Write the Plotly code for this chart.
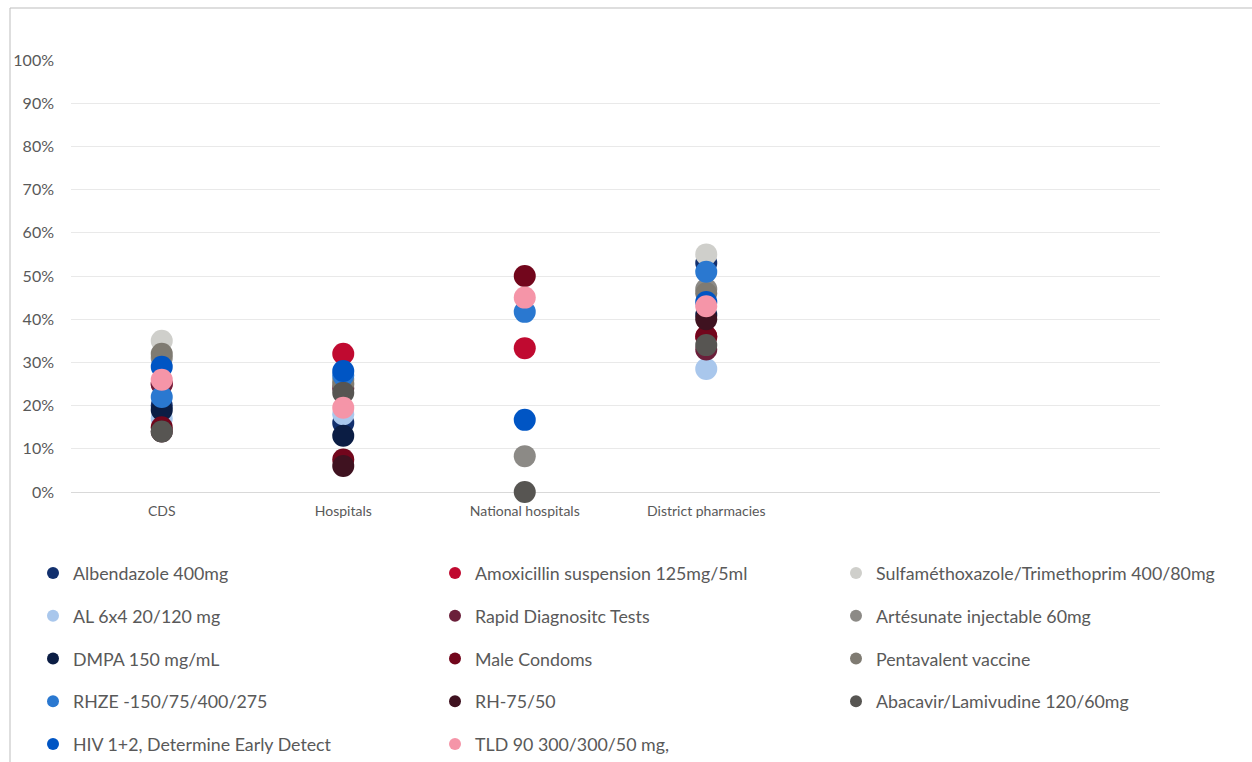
import plotly.graph_objects as go

# ---------------- data ----------------
categories = ["CDS", "Hospitals", "National hospitals", "District pharmacies"]
extra_slots = [" ", "  "]

series_names = [
    "Albendazole 400mg",
    "Amoxicillin suspension 125mg/5ml",
    "Sulfaméthoxazole/Trimethoprim 400/80mg",
    "AL 6x4 20/120 mg",
    "Rapid Diagnositc Tests",
    "Artésunate injectable 60mg",
    "DMPA 150 mg/mL",
    "Male Condoms",
    "Pentavalent vaccine",
    "RHZE -150/75/400/275",
    "RH-75/50",
    "Abacavir/Lamivudine 120/60mg",
    "HIV 1+2, Determine Early Detect",
    "TLD 90 300/300/50 mg,",
]

albendazole = [0.20, 0.16, None, 0.53]
amoxicillin = [0.25, 0.32, 0.333, 0.36]
sulfa = [0.35, 0.25, None, 0.55]
al_6x4 = [0.17, 0.18, None, 0.285]
rdt = [0.25, 0.24, None, 0.33]
artesunate = [0.31, 0.26, 0.083, 0.47]
dmpa = [0.19, 0.13, None, 0.41]
male_condoms = [0.15, 0.075, 0.50, 0.36]
pentavalent = [0.32, 0.25, None, 0.46]
rhze = [0.22, 0.27, 0.417, 0.51]
rh = [0.14, 0.06, None, 0.40]
abacavir = [0.14, 0.23, 0.0, 0.34]
hiv = [0.29, 0.28, 0.167, 0.44]
tld = [0.26, 0.195, 0.45, 0.43]

series_values = [albendazole, amoxicillin, sulfa, al_6x4, rdt, artesunate, dmpa,
                 male_condoms, pentavalent, rhze, rh, abacavir, hiv, tld]

colors = ["#12306e", "#c00a30", "#cfcfcb", "#a9c7ec", "#6b1f3a", "#8c8a86", "#0b1d44",
          "#72061c", "#7f7b72", "#2a78d0", "#3f1220", "#575552", "#0055c4", "#f595a8"]

legend_columns = ["legend", "legend2", "legend3"] * 5

y_tickvals = [0, 0.1, 0.2, 0.3, 0.4, 0.5, 0.6, 0.7, 0.8, 0.9, 1.0]
y_ticktext = ["0%", "10%", "20%", "30%", "40%", "50%", "60%", "70%", "80%", "90%", "100%"]

# ---------------- layout geometry (pixels) ----------------
W, H = 1252, 762
PL, PR, PT, PB = 71, 1160, 60, 492
pw, ph = PR - PL, PB - PT


def px_x(px):
    return (px - PL) / pw


def px_y(py):
    return (PB - py) / ph


TEXT = "#595959"
FONT = "Lato"

fig = go.Figure()
for i, (name, vals, col) in enumerate(zip(series_names, series_values, colors)):
    fig.add_trace(go.Scatter(
        x=categories, y=vals, name=name, mode="markers",
        marker=dict(color=col, size=22, line=dict(width=0)),
        cliponaxis=False,
        legend=legend_columns[i],
        legendgroup=name,
    ))

legend_common = dict(
    orientation="v", yanchor="top", xanchor="left",
    font=dict(family=FONT, size=17.8, color=TEXT),
    bgcolor="rgba(0,0,0,0)", tracegroupgap=16.6, itemsizing="constant",
)

fig.update_layout(
    width=W, height=H,
    margin=dict(l=PL, r=W - PR, t=PT, b=H - PB, autoexpand=False),
    paper_bgcolor="white", plot_bgcolor="white",
    font=dict(family=FONT, color=TEXT),
    showlegend=True,
    legend=dict(x=px_x(33), y=px_y(555), **legend_common),
    legend2=dict(x=px_x(435), y=px_y(555), **legend_common),
    legend3=dict(x=px_x(836), y=px_y(555), **legend_common),
    xaxis=dict(
        type="category", categoryorder="array",
        categoryarray=categories + extra_slots,
        range=[-0.5, len(categories) + len(extra_slots) - 0.5],
        showgrid=False, zeroline=False, showline=False,
        ticks="", tickfont=dict(family=FONT, size=14, color=TEXT),
        ticklabelstandoff=9,
    ),
    yaxis=dict(
        range=[0, 1.0], tickvals=y_tickvals, ticktext=y_ticktext,
        showgrid=True, gridcolor="#e9e9e9", gridwidth=1,
        zeroline=True, zerolinecolor="#d9d9d9", zerolinewidth=1,
        showline=False, ticks="",
        tickfont=dict(family=FONT, size=16, color=TEXT),
        ticklabelstandoff=16,
    ),
    shapes=[
        dict(type="line", xref="paper", yref="paper",
             x0=px_x(10), x1=px_x(10), y0=px_y(8), y1=px_y(H),
             line=dict(color="#bdbdbd", width=1)),
        dict(type="line", xref="paper", yref="paper",
             x0=px_x(10), x1=px_x(W), y0=px_y(8), y1=px_y(8),
             line=dict(color="#bdbdbd", width=1)),
    ],
)

fig.write_html("out.html")
